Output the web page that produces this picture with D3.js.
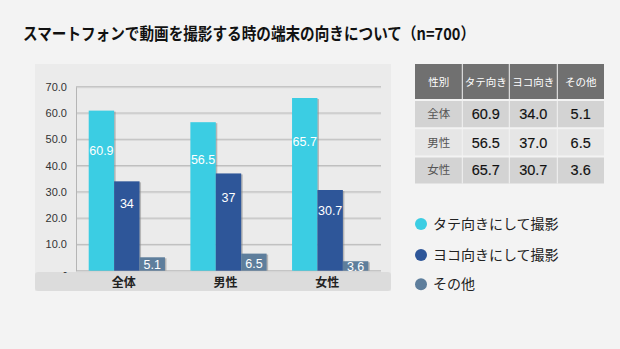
<!DOCTYPE html>
<html><head><meta charset="utf-8">
<script src="https://cdn.jsdelivr.net/npm/d3@7"></script>
<style>
html,body{margin:0;padding:0;background:#f3f3f3;}
svg{display:block;}
</style></head>
<body>
<svg id="c" width="620" height="349"></svg>
<script>
const title = "スマートフォンで動画を撮影する時の端末の向きについて（n=700）";
const categories = ["全体", "男性", "女性"];
const seriesNames = ["タテ向きにして撮影", "ヨコ向きにして撮影", "その他"];
const tableHeaders = ["性別", "タテ向き", "ヨコ向き", "その他"];
const tateValues = [60.9, 56.5, 65.7];
const yokoValues = [34.0, 37.0, 30.7];
const otherValues = [5.1, 6.5, 3.6];
const barLabels = [["60.9", "56.5", "65.7"], ["34", "37", "30.7"], ["5.1", "6.5", "3.6"]];
const yTicks = [0, 10, 20, 30, 40, 50, 60, 70];
const yTickLabels = ["-", "10.0", "20.0", "30.0", "40.0", "50.0", "60.0", "70.0"];
const colors = ["#3bcde3", "#2e5699", "#5e7e9c"];

const series = [tateValues, yokoValues, otherValues];
const svg = d3.select("#c");
const jp = "'Noto Sans CJK JP', sans-serif";
const num = "'Liberation Sans', Arial, sans-serif";

// title
svg.append("text").attr("x", 23).attr("y", 40)
  .attr("font-family", jp).attr("font-weight", "bold").attr("font-size", 16.5)
  .attr("fill", "#111").attr("textLength", 452).attr("lengthAdjust", "spacingAndGlyphs")
  .text(title);

// chart panel
svg.append("rect").attr("x", 35).attr("y", 64).attr("width", 356).attr("height", 227)
  .attr("fill", "#ebebeb");
svg.append("rect").attr("x", 35).attr("y", 272).attr("width", 356).attr("height", 19)
  .attr("rx", 3).attr("fill", "#dcdcdc");

const y = d3.scaleLinear().domain([0, 70]).range([270.7, 86.7]);
const x0 = d3.scaleBand().domain(categories).range([76, 381]).paddingInner(0.25).paddingOuter(0.125);
const x1 = d3.scaleBand().domain(d3.range(3)).range([0, x0.bandwidth()]);

// gridlines
const grid = svg.append("g");
grid.selectAll("line.s").data(yTicks).join("line")
  .attr("x1", 76).attr("x2", 381).attr("y1", d => y(d) + 1).attr("y2", d => y(d) + 1)
  .attr("stroke", "#d6d6d6").attr("stroke-width", 1);
grid.selectAll("line.g").data(yTicks).join("line")
  .attr("x1", 76).attr("x2", 381).attr("y1", d => y(d)).attr("y2", d => y(d))
  .attr("stroke", "#bdbdbd").attr("stroke-width", 1);

// y axis
const yAxis = d3.axisLeft(y).tickValues(yTicks).tickSize(0).tickPadding(9)
  .tickFormat((d, i) => yTickLabels[i]);
const ya = svg.append("g").attr("transform", "translate(76,0)").call(yAxis);
ya.select(".domain").attr("stroke", "#b5b5b5");
ya.selectAll("text").attr("font-family", num).attr("font-size", 11).attr("fill", "#333");

// bars
const groups = svg.append("g").selectAll("g").data(categories).join("g")
  .attr("transform", d => `translate(${x0(d)},0)`);
groups.each(function(cat, ci) {
  const g = d3.select(this);
  series.forEach((vals, si) => {
    const v = vals[ci];
    g.append("rect").attr("x", x1(si) + 1.5).attr("y", y(v) + 1)
      .attr("width", x1.bandwidth()).attr("height", y(0) - y(v) - 1)
      .attr("fill", "#8a8a8a").attr("opacity", 0.55);
  });
  series.forEach((vals, si) => {
    const v = vals[ci];
    g.append("rect").attr("x", x1(si)).attr("y", y(v))
      .attr("width", x1.bandwidth()).attr("height", y(0) - y(v))
      .attr("fill", colors[si]);
  });
  series.forEach((vals, si) => {
    const v = vals[ci];
    const ly = v < 10 ? y(v / 2) + 1 : y(v * 0.75);
    g.append("text").attr("x", x1(si) + x1.bandwidth() / 2).attr("y", ly)
      .attr("dy", "0.36em").attr("text-anchor", "middle")
      .attr("font-family", num).attr("font-size", 12.5).attr("fill", "#fff")
      .text(barLabels[si][ci]);
  });
});

// category labels
svg.append("g").selectAll("text").data(categories).join("text")
  .attr("x", d => x0(d) + x0.bandwidth() / 2 - 3).attr("y", 282.5).attr("dy", "0.36em")
  .attr("text-anchor", "middle").attr("font-family", jp).attr("font-weight", "bold")
  .attr("font-size", 12).attr("fill", "#222").text(d => d);

// table
const colX = [415, 462.3, 509.3, 557.3, 604];
const rowY = [64, 100, 128.3, 156.5, 183.5];
const tbl = svg.append("g");
tbl.append("rect").attr("x", colX[0]).attr("y", rowY[0]).attr("width", colX[4] - colX[0])
  .attr("height", rowY[1] - rowY[0]).attr("fill", "#707070");
const rowFills = ["#d3d3d3", "#e6e6e6", "#d3d3d3"];
categories.forEach((cat, ri) => {
  tbl.append("rect").attr("x", colX[0]).attr("y", rowY[ri + 1]).attr("width", colX[4] - colX[0])
    .attr("height", rowY[ri + 2] - rowY[ri + 1]).attr("fill", rowFills[ri]);
});
[1, 2, 3].forEach(i => {
  tbl.append("line").attr("x1", colX[i]).attr("x2", colX[i]).attr("y1", rowY[0]).attr("y2", rowY[4])
    .attr("stroke", "#f3f3f3").attr("stroke-width", 1);
});
[1, 2, 3].forEach(i => {
  tbl.append("line").attr("x1", colX[0]).attr("x2", colX[4]).attr("y1", rowY[i]).attr("y2", rowY[i])
    .attr("stroke", "#f3f3f3").attr("stroke-width", 2);
});
tableHeaders.forEach((h, i) => {
  tbl.append("text").attr("x", (colX[i] + colX[i + 1]) / 2).attr("y", (rowY[0] + rowY[1]) / 2)
    .attr("dy", "0.36em").attr("text-anchor", "middle").attr("font-family", jp)
    .attr("font-size", 10.5).attr("fill", "#fff").text(h);
});
categories.forEach((cat, ri) => {
  const cy = (rowY[ri + 1] + rowY[ri + 2]) / 2;
  tbl.append("text").attr("x", (colX[0] + colX[1]) / 2).attr("y", cy).attr("dy", "0.36em")
    .attr("text-anchor", "middle").attr("font-family", jp).attr("font-size", 11.5)
    .attr("fill", "#555").text(cat);
  series.forEach((vals, si) => {
    tbl.append("text").attr("x", (colX[si + 1] + colX[si + 2]) / 2).attr("y", cy).attr("dy", "0.36em")
      .attr("text-anchor", "middle").attr("font-family", num)
      .attr("font-size", 14.5).attr("stroke", "#111").attr("stroke-width", 0.15)
      .attr("fill", "#111").text(vals[ri].toFixed(1));
  });
});

// legend
const leg = svg.append("g").selectAll("g").data(seriesNames).join("g")
  .attr("transform", (d, i) => `translate(421,${[224, 255, 284.3][i]})`);
leg.append("circle").attr("r", 6).attr("fill", (d, i) => colors[i]);
leg.append("text").attr("x", 12).attr("dy", "0.36em").attr("font-family", jp)
  .attr("font-size", 14).attr("fill", "#222").text(d => d);
</script>
</body></html>
